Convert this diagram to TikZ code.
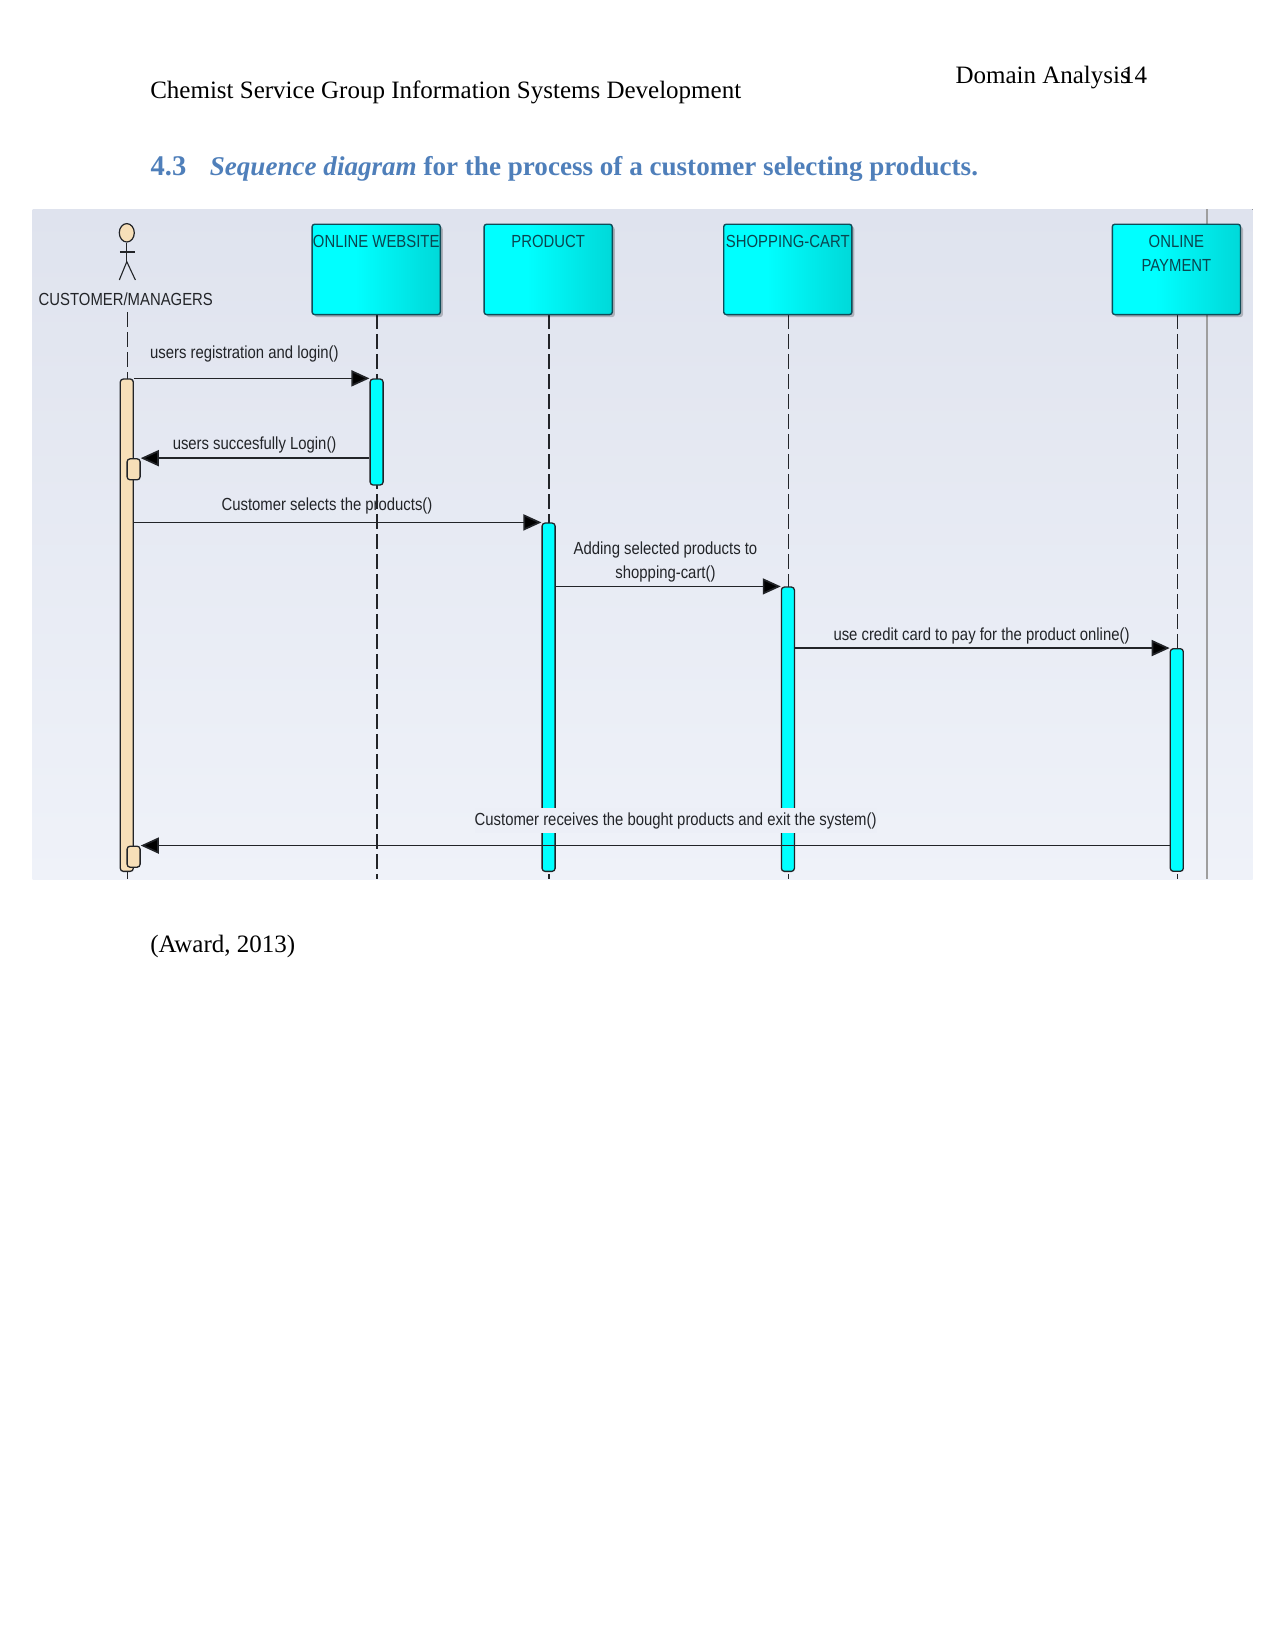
\documentclass[tikz,border=0pt]{standalone}
\usepackage{fontspec}
\usetikzlibrary{arrows.meta,shapes.geometric,shadows}
\setmainfont{Liberation Serif}
\newfontfamily\diagfont[FakeStretch=0.85]{Liberation Sans}
\definecolor{panelTop}{HTML}{DFE3EE}
\definecolor{panelBottom}{HTML}{EFF2F9}
\definecolor{labelBack}{HTML}{ECEFF7}
\definecolor{wheatFill}{HTML}{F7DFB8}
\definecolor{headingBlue}{HTML}{4F7FBA}
\definecolor{inkDark}{HTML}{222428}
\definecolor{boxEdge}{HTML}{0E4C58}
\definecolor{boxText}{HTML}{0A4650}
\definecolor{barCyan}{HTML}{00FFFF}
\pgfdeclarehorizontalshading{cyanbox}{100bp}{
  rgb(0bp)=(0,0.93,0.93);
  rgb(28bp)=(0,1,1);
  rgb(42bp)=(0,1,1);
  rgb(68bp)=(0,0.88,0.88);
  rgb(100bp)=(0,0.75,0.75)}
\newcommand\headtext[1]{\parbox[c][90.3pt][t]{128.2pt}{\centering\vspace{11pt}#1}}
\tikzset{
  pagetext/.style={anchor=base west,inner sep=0pt,font=\fontsize{25}{30}\selectfont,text=black},
  headingtext/.style={pagetext,text=headingBlue,font=\bfseries\fontsize{27.1}{32}\selectfont},
  lifehead/.style={draw=boxEdge,line width=1.4pt,rounded corners=2.5pt,shading=cyanbox,
    minimum width=128.2pt,minimum height=90.3pt,inner sep=0pt,text=boxText,
    font=\diagfont\fontsize{17.5}{23.4}\selectfont,
    drop shadow={shadow xshift=2.5pt,shadow yshift=-2.5pt,fill=black,opacity=.22}},
  lifeline/.style={draw=inkDark,line width=1.3pt,dash pattern=on 14.5pt off 5.5pt},
  activation/.style={draw=inkDark,line width=1.3pt,rounded corners=3pt,fill=barCyan,
    minimum width=13pt,inner sep=0pt},
  actorbar/.style={activation,fill=wheatFill},
  message/.style={draw=inkDark,line width=1.7pt,-{Triangle[length=18pt,width=16pt,fill=black]}},
  msgtext/.style={inner sep=0pt,text=inkDark,align=center,font=\diagfont\fontsize{17.5}{23.6}\selectfont},
  stick/.style={draw=inkDark,line width=1.1pt}
}
\begin{document}
\begin{tikzpicture}[x=1pt,y=-1pt]
\useasboundingbox (0,0) rectangle (1275,1650);

% running header and section heading
\node[pagetext] (hdrLeft) at (150.1,98) {Chemist Service Group Information Systems Development};
\node[pagetext] (hdrRight) at (955.3,83.3) {Domain Analysis};
\node[pagetext] (hdrPage) at (1122,83.3) {14};
\node[headingtext,font=\bfseries\fontsize{28.5}{32}\selectfont] (secNum) at (150.5,175) {4.3};
\node[headingtext] (secTitle) at (209.6,175) {\textit{Sequence diagram} for the process of a customer selecting products.};
\node[pagetext] (citation) at (150.1,952) {(Award, 2013)};

% panel behind the diagram
\fill[top color=panelTop,bottom color=panelBottom] (32.5,209.3) rectangle (1252.5,879.3);
\draw[line width=2pt,draw=black!38] (1206.6,209.3) -- (1206.6,879.3);

% lower ends of the lifelines
\coordinate (actorTop) at (127.4,312);
\coordinate (actorEnd) at (127.4,879.3);
\coordinate (webEnd) at (377.1,879.3);
\coordinate (prodEnd) at (549.1,879.3);
\coordinate (cartEnd) at (788.8,879.3);
\coordinate (payEnd) at (1177.4,879.3);

% actor
\node[ellipse,draw=inkDark,line width=1.2pt,fill=wheatFill,minimum width=15pt,minimum height=18.4pt,inner sep=0pt] (actorHead) at (126.8,232.8) {};
\coordinate (actorHip) at (126.8,261.7);
\coordinate (armL) at (119.8,252);
\coordinate (armR) at (135.2,252);
\coordinate (legL) at (119.3,280);
\coordinate (legR) at (135.4,280);
\draw[stick] (actorHead.south) -- (actorHip);
\draw[stick] (armL) -- (armR);
\draw[stick] (legL) -- (actorHip) -- (legR);
\node[msgtext] (actorName) at (125.8,299.3) {CUSTOMER/MANAGERS};

% lifelines, drawn first so the heads and bars cover them
\draw[lifeline] (377.1,314.3) coordinate (webTop) -- (webEnd);
\draw[lifeline] (549.1,314.3) coordinate (prodTop) -- (prodEnd);
\draw[lifeline] (788.8,314.3) coordinate (cartTop) -- (cartEnd);
\draw[lifeline] (1177.4,314.3) coordinate (payTop) -- (payEnd);
\draw[lifeline] (actorTop) -- (actorEnd);

% lifeline heads
\node[lifehead] (web) at (376.2,269.4) {\headtext{\mbox{ONLINE WEBSITE}}};
\node[lifehead] (prod) at (548.2,269.4) {\headtext{PRODUCT}};
\node[lifehead] (cart) at (787.8,269.4) {\headtext{\mbox{SHOPPING-CART}}};
\node[lifehead] (pay) at (1176.4,269.4) {\headtext{ONLINE\\[0.5pt]PAYMENT}};

% activation bars
\node[actorbar,minimum height=492.3pt] (actorBar) at (126.8,625.2) {};
\node[activation,minimum height=106pt] (webBar) at (376.6,432) {};
\node[activation,minimum height=348.3pt] (prodBar) at (548.6,697.2) {};
\node[activation,minimum height=284.3pt] (cartBar) at (787.9,729.2) {};
\node[activation,minimum height=222.6pt] (payBar) at (1176.8,760) {};
\node[actorbar,minimum height=21pt,minimum width=13pt] (selfA) at (133.6,469.3) {};
\node[actorbar,minimum height=21pt,minimum width=13pt] (selfB) at (133.6,856.7) {};

% label of the last message sits on a patch hiding the bars behind it
\node[msgtext,fill=labelBack,inner ysep=4pt,minimum height=24pt] (msgSix) at (675.6,820.5) {Customer receives the bought products and exit the system()};

% messages
\draw[message] (actorBar.east |- webBar.north) -- (webBar.north west);
\draw[message] (webBar.west |- selfA.north) -- (selfA.north east);
\draw[message] (actorBar.east |- prodBar.north) -- (prodBar.north west);
\draw[message] (prodBar.east |- cartBar.north) -- (cartBar.north west);
\draw[message] (cartBar.east |- payBar.north) -- (payBar.north west);
\draw[message] (payBar.west |- selfB.north) -- (selfB.north east);

% message labels
\node[msgtext] (msgOne) at (244.4,354) {users registration and login()};
\node[msgtext] (msgTwo) at (254.6,444.6) {users succesfully Login()};
\node[msgtext] (msgThree) at (327,506.3) {Customer selects the products()};
\node[msgtext] (msgFour) at (665.5,562) {Adding selected products to\\shopping-cart()};
\node[msgtext] (msgFive) at (981.5,635.6) {use credit card to pay for the product online()};
\end{tikzpicture}
\end{document}
